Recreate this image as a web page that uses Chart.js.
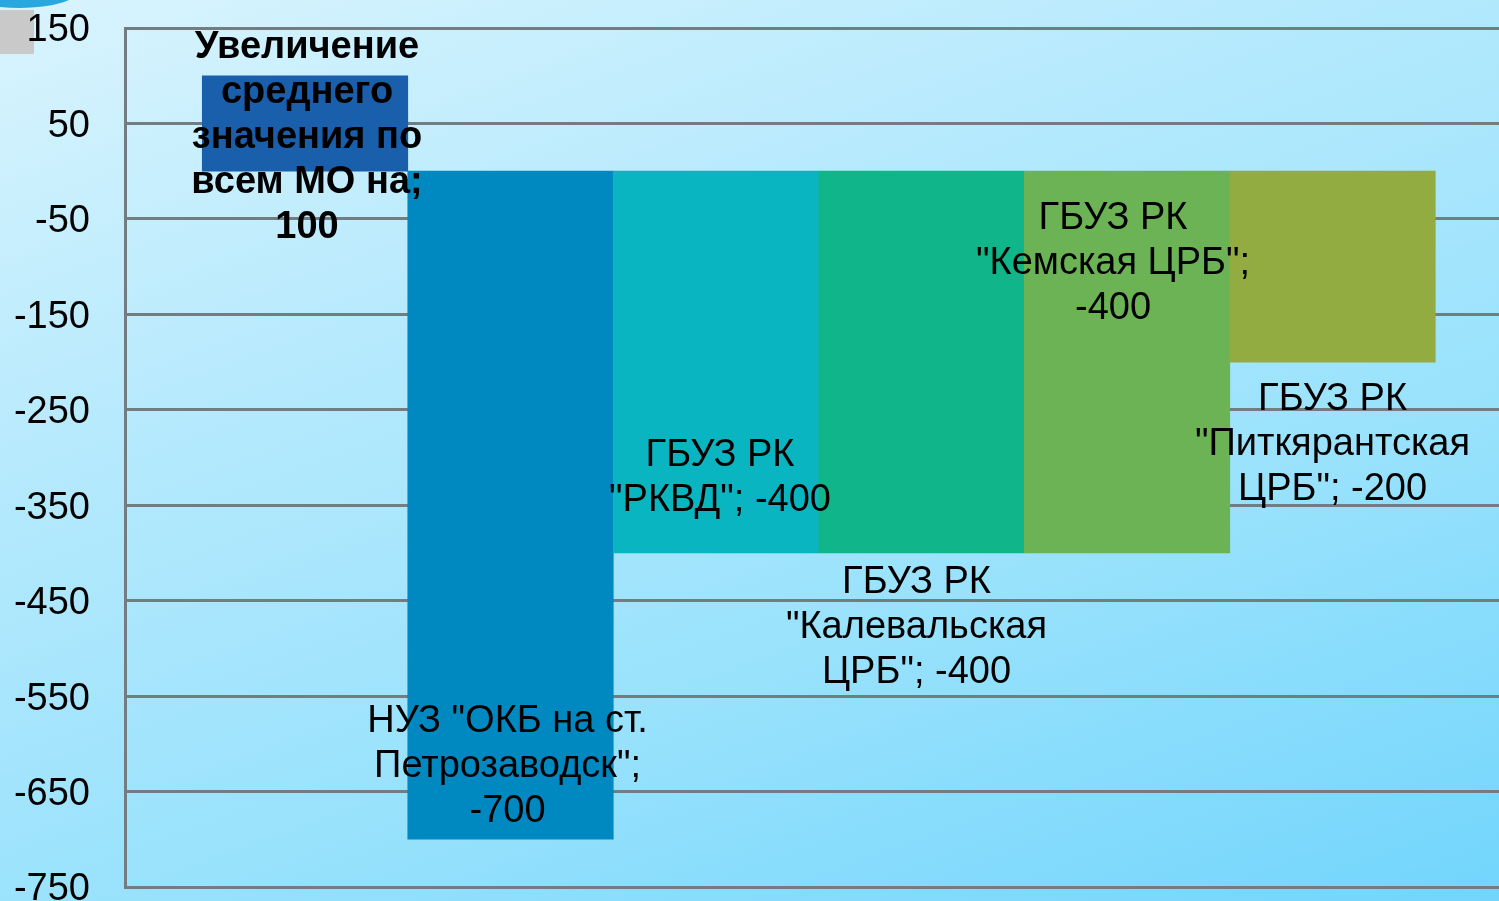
<!DOCTYPE html>
<html>
<head>
<meta charset="utf-8">
<script src="https://cdn.jsdelivr.net/npm/chart.js@4"></script>
<style>
  html, body { margin: 0; padding: 0; }
  body {
    width: 1499px; height: 901px; overflow: hidden; position: relative;
    background: linear-gradient(160deg, #d9f4fd 0%, #b4e9fd 35%, #99e2fc 65%, #72d5fc 100%);
  }
  #wrap { position: absolute; left: 0; top: 0; width: 1499px; height: 901px; }
  .deco-arc { position: absolute; left: -40px; top: -30px; width: 120px; height: 38px; border-radius: 50%; background: #29a8e0; }
  .deco-box { position: absolute; left: 0; top: 10px; width: 34px; height: 44px; background: #c9c9c9; }
</style>
</head>
<body>
<div class="deco-arc"></div>
<div class="deco-box"></div>
<div id="wrap"><canvas id="grafica" width="1499" height="901"></canvas></div>
<script>
const categorias = [
  ['Увеличение', 'среднего', 'значения по', 'всем МО на;'],
  ['НУЗ "ОКБ на ст.', 'Петрозаводск";'],
  ['ГБУЗ РК', '"РКВД"; -400'],
  ['ГБУЗ РК', '"Калевальская', 'ЦРБ"; -400'],
  ['ГБУЗ РК', '"Кемская ЦРБ";'],
  ['ГБУЗ РК', '"Питкярантская', 'ЦРБ"; -200']
];
const valores = [100, -700, -400, -400, -400, -200];
const mostrarValor = [true, true, false, false, true, false];
const colores = ['#1a5fab', '#0088c1', '#09b5c0', '#10b689', '#6cb355', '#93ac42'];
const ticksY = [150, 50, -50, -150, -250, -350, -450, -550, -650, -750];

// donde va cada etiqueta respecto a su barra
const colocacion = [
  { desde: 'mid', dy: 14, dx: 2, bold: true },
  { desde: 'end', dy: -73, dx: -3 },
  { desde: 'end', dy: -75, dx: 4 },
  { desde: 'end', dy: 75, dx: -5 },
  { desde: 'base', dy: 92, dx: -14 },
  { desde: 'end', dy: 82, dx: 0 }
];

const etiquetas = {
  id: 'etiquetas',
  afterDatasetsDraw(chart) {
    const ctx = chart.ctx;
    const meta = chart.getDatasetMeta(0);
    const lh = 45;
    meta.data.forEach((bar, i) => {
      const lineas = categorias[i].slice();
      if (mostrarValor[i]) lineas.push(String(valores[i]));
      const c = colocacion[i];
      let cy;
      if (c.desde === 'mid') cy = (bar.y + bar.base) / 2;
      else if (c.desde === 'end') cy = bar.y;
      else cy = bar.base;
      cy += c.dy;
      const cx = bar.x + c.dx;
      ctx.save();
      ctx.fillStyle = '#000';
      ctx.textAlign = 'center';
      ctx.textBaseline = 'middle';
      ctx.font = (c.bold ? 'bold ' : '') + '38px "Liberation Sans", Arial, sans-serif';
      const top = cy - (lineas.length - 1) * lh / 2;
      lineas.forEach((t, k) => ctx.fillText(t, cx, top + k * lh));
      ctx.restore();
    });
  }
};

const puntos = valores.map((v, i) => ({ x: i + 1, y: v }));

new Chart(document.getElementById('grafica').getContext('2d'), {
  type: 'bar',
  data: {
    datasets: [{
      data: puntos,
      backgroundColor: colores,
      borderWidth: 0,
      barPercentage: 1,
      categoryPercentage: 1
    }]
  },
  options: {
    responsive: false,
    animation: false,
    layout: { padding: { top: 28, bottom: 14, left: 0, right: 0 } },
    plugins: { legend: { display: false }, tooltip: { enabled: false } },
    scales: {
      x: {
        type: 'linear',
        display: false,
        offset: false,
        grid: { offset: false },
        min: 0.124,
        max: 6.81,
        afterBuildTicks: (s) => { s.ticks = puntos.map((p) => ({ value: p.x })); }
      },
      y: {
        min: -750,
        max: 150,
        afterBuildTicks: (s) => { s.ticks = ticksY.map((v) => ({ value: v })); },
        afterFit: (s) => { s.width = 125; s.paddingTop = 0; s.paddingBottom = 0; },
        grid: { color: '#737c80', lineWidth: 3, drawTicks: false },
        border: { display: true, color: '#737c80', width: 3 },
        ticks: {
          color: '#000',
          padding: 35,
          labelOffset: 3,
          font: { family: '"Liberation Sans", Arial, sans-serif', size: 38 }
        }
      }
    }
  },
  plugins: [etiquetas]
});
</script>
</body>
</html>
